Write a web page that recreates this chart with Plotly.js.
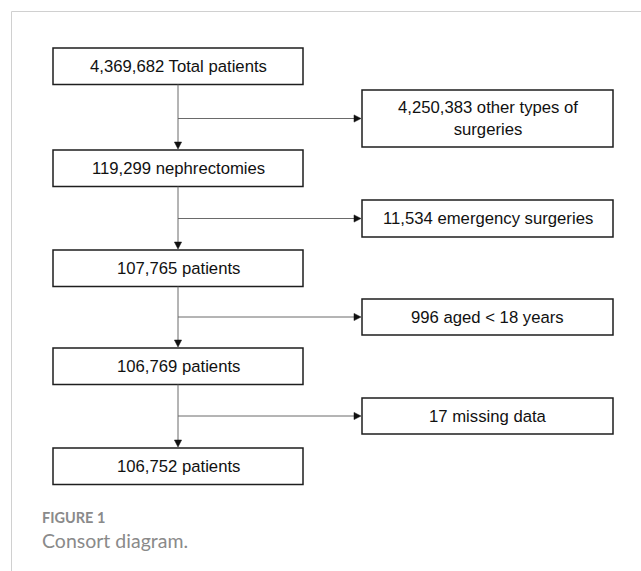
<!DOCTYPE html>
<html>
<head>
<meta charset="utf-8">
<script src="https://cdn.plot.ly/plotly-3.0.1.min.js"></script>
<style>html,body{margin:0;padding:0;background:#fff;}#chart{width:641px;height:571px;}</style>
</head>
<body>
<div id="chart"></div>
<script>
// ---- data ----
var mainCounts = [4369682, 119299, 107765, 106769, 106752];
var mainLabels = ['Total patients', 'nephrectomies', 'patients', 'patients', 'patients'];
var excludedCounts = [4250383, 11534, 996, 17];
var excludedLabels = ['other types of<br>surgeries', 'emergency surgeries', 'aged &lt; 18 years', 'missing data'];
var captionLabel = 'FIGURE 1';
var captionText = 'Consort diagram.';

// ---- layout geometry (pixel-space axes) ----
var W = 641, H = 571;
var mainX0 = 53, mainX1 = 303, mainH = 36.5;
var mainTops = [48, 150, 250, 348, 448];
var sideX0 = 362, sideX1 = 613;
var sideTops = [90, 200, 299, 398];
var sideHeights = [57, 37, 36, 36];
var stemX = 178;
var boxColor = '#1e1e1e', lineColor = '#6a6a6a', headColor = '#111';
var textFont = {family: 'Liberation Sans, Arial, sans-serif', size: 16.7, color: '#111'};

function fmt(n){ return n.toLocaleString('en-US'); }

var shapes = [];
var annotations = [];

// frame lines
shapes.push({type:'line', xref:'x', yref:'y', x0:11.5, y0:11.5, x1:W, y1:11.5, line:{color:'#d0d0d0', width:1}});
shapes.push({type:'line', xref:'x', yref:'y', x0:11.5, y0:11.5, x1:11.5, y1:H, line:{color:'#d0d0d0', width:1}});

// main boxes
mainCounts.forEach(function(c, i){
  var y0 = mainTops[i], y1 = y0 + mainH;
  shapes.push({type:'rect', xref:'x', yref:'y', x0:mainX0, x1:mainX1, y0:y0, y1:y1,
    line:{color:boxColor, width:1.5}, fillcolor:'rgba(0,0,0,0)'});
  annotations.push({xref:'x', yref:'y', x:(mainX0+mainX1)/2, y:(y0+y1)/2, text: fmt(c) + ' ' + mainLabels[i],
    showarrow:false, font:textFont, xanchor:'center', yanchor:'middle'});
});

// connectors and excluded boxes
excludedCounts.forEach(function(c, i){
  var fromY = mainTops[i] + mainH;
  var toY = mainTops[i+1];
  // vertical stem
  shapes.push({type:'line', xref:'x', yref:'y', x0:stemX, x1:stemX, y0:fromY, y1:toY-7, line:{color:lineColor, width:1}});
  shapes.push({type:'path', xref:'x', yref:'y',
    path:'M '+(stemX-3.6)+' '+(toY-8)+' L '+(stemX+3.6)+' '+(toY-8)+' L '+stemX+' '+(toY-1)+' Z',
    fillcolor:headColor, line:{color:headColor, width:0.5}});
  // side box
  var sy0 = sideTops[i], sy1 = sy0 + sideHeights[i], sc = (sy0+sy1)/2;
  shapes.push({type:'rect', xref:'x', yref:'y', x0:sideX0, x1:sideX1, y0:sy0, y1:sy1,
    line:{color:boxColor, width:1.5}, fillcolor:'rgba(0,0,0,0)'});
  annotations.push({xref:'x', yref:'y', x:(sideX0+sideX1)/2, y:sc, text: fmt(c) + ' ' + excludedLabels[i],
    showarrow:false, font:textFont, xanchor:'center', yanchor:'middle'});
  // branch
  shapes.push({type:'line', xref:'x', yref:'y', x0:stemX, x1:sideX0-7, y0:sc, y1:sc, line:{color:lineColor, width:1}});
  shapes.push({type:'path', xref:'x', yref:'y',
    path:'M '+(sideX0-8)+' '+(sc-3.6)+' L '+(sideX0-8)+' '+(sc+3.6)+' L '+(sideX0-1)+' '+sc+' Z',
    fillcolor:headColor, line:{color:headColor, width:0.5}});
});

// caption
annotations.push({xref:'x', yref:'y', x:40, y:517, text:'<b>'+captionLabel+'</b>', showarrow:false,
  xanchor:'left', yanchor:'middle', font:{family:'Lato, Open Sans, sans-serif', size:14.5, color:'#8a8a8a'}});
annotations.push({xref:'x', yref:'y', x:40, y:540, text:captionText, showarrow:false,
  xanchor:'left', yanchor:'middle', font:{family:'Lato, Open Sans, sans-serif', size:19.5, color:'#8a8a8a'}});

var layout = {
  width: W, height: H,
  margin: {l:0, r:0, t:0, b:0, pad:0},
  paper_bgcolor: '#fff', plot_bgcolor: '#fff',
  showlegend: false,
  xaxis: {range:[0, W], visible:false, fixedrange:true},
  yaxis: {range:[H, 0], visible:false, fixedrange:true},
  shapes: shapes,
  annotations: annotations
};

Plotly.newPlot('chart', [{type:'scatter', x:[], y:[], mode:'markers', hoverinfo:'skip'}], layout, {staticPlot:true, displayModeBar:false});
</script>
</body>
</html>
